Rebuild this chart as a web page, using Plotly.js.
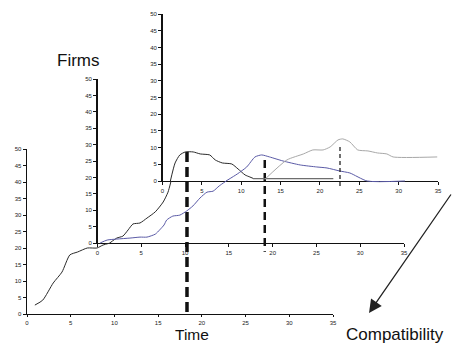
<!DOCTYPE html>
<html>
<head>
<meta charset="utf-8">
<script src="https://cdn.plot.ly/plotly-3.0.1.min.js"></script>
<style>html,body{margin:0;padding:0;background:#fff;}#chart{width:452px;height:343px;}</style>
</head>
<body>
<div id="chart"></div>
<script>
// ---------- data (each panel in its own axis coordinates) ----------
var xTicks = [0, 5, 10, 15, 20, 25, 30, 35];
var yTicks = [0, 5, 10, 15, 20, 25, 30, 35, 40, 45, 50];

// back (front-left) panel
var backBlackX = [0.9, 1.8, 3.0, 4.0, 4.9, 5.8, 6.9, 8.0, 8.7, 9.5];
var backBlackY = [2.7, 4.2, 9.4, 12.7, 17.9, 18.8, 20.0, 20.0, 20.9, 21.5];

// middle panel
var midBlackX = [1.4, 2.2, 2.9, 3.5, 4.05, 4.85, 5.65, 6.6, 7.5, 8.05, 8.4];
var midBlackY = [0, 1.5, 2.1, 4.0, 5.8, 6.1, 7.6, 9.5, 12.5, 15.5, 18.9];
var midBlueX = [0.3, 1.1, 2.2, 3.7, 4.85, 5.65, 6.6, 7.1, 7.6, 7.9, 8.6, 9.4, 10.2, 10.9, 11.7, 12.5, 13.2, 13.9, 14.7];
var midBlueY = [0, 0.9, 1.2, 1.5, 1.8, 1.8, 2.7, 4.0, 5.5, 7.0, 8.2, 8.5, 9.8, 11.3, 13.7, 15.5, 15.8, 17.4, 18.9];

// top panel
var topBlackX = [1.0, 1.6, 2.2, 2.9, 3.9, 4.8, 6.0, 6.7, 7.6, 8.8, 9.6, 10.5, 11.1, 11.5];
var topBlackY = [0, 5.4, 7.8, 8.7, 8.7, 8.1, 7.8, 6.3, 5.4, 5.1, 3.6, 1.8, 1.2, 0.8];
var topFlatX = [11.5, 21.7];
var topFlatY = [0.7, 0.7];
var topBlueX = [8.07, 9.5, 10.7, 11.75, 12.6, 13.6, 15.3, 17.5, 19.6, 20.9, 22.5, 23.8, 26.0, 30.8];
var topBlueY = [0, 2.1, 4.2, 7.2, 7.8, 7.2, 6.0, 4.8, 4.2, 3.9, 3.0, 2.4, 0, 0];
var topGrayX = [13.0, 15.8, 17.9, 19.1, 20.4, 21.3, 22.3, 22.9, 23.8, 24.8, 26.1, 27.3, 28.5, 29.3, 34.9];
var topGrayY = [0.5, 6.3, 8.1, 9.3, 9.3, 10.2, 12.3, 12.6, 11.7, 9.3, 9.0, 8.4, 8.1, 7.2, 7.2];

// vertical dashed markers
var dash1X = [18.3, 18.3], dash1Y = [49.1, 0];      // back coords
var dash2X = [19.1, 19.1], dash2Y = [25.3, -2.7];   // middle coords
var dash3X = [22.55, 22.55], dash3Y = [10.2, -1.8]; // top coords

var labelFirms = 'Firms', labelTime = 'Time', labelComp = 'Compatibility';

// ---------- layout geometry (pixel boxes of the three panels) ----------
var W = 452, H = 343;
var panels = [
  {x0: 27,    x1: 333, y0: 314, y1: 149, xticklen: 2},   // back
  {x0: 97.5,  x1: 404, y0: 243, y1: 79,  xticklen: 3},   // middle
  {x0: 162.5, x1: 438, y0: 181, y1: 14,  xticklen: 3}    // top
];
var XMAX = 35, YMAX = 50;

var layout = {
  width: W, height: H, autosize: false,
  margin: {l: 0, r: 0, t: 0, b: 0, pad: 0},
  paper_bgcolor: '#ffffff', plot_bgcolor: 'rgba(0,0,0,0)',
  showlegend: false,
  font: {family: 'Liberation Sans, Arial, sans-serif', color: '#111'},
  annotations: [], shapes: []
};

panels.forEach(function (p, i) {
  var n = i + 1, h = i + 4;
  var sx = (p.x1 - p.x0) / XMAX, sy = (p.y0 - p.y1) / YMAX;
  var axCommon = {
    showgrid: false, zeroline: false, showline: true,
    linecolor: '#111', linewidth: 1.4, ticks: 'outside', ticklen: 3,
    tickwidth: 1, tickcolor: '#111', fixedrange: true,
    tickfont: {size: 6, color: '#222', family: 'Liberation Sans, Arial, sans-serif'}
  };
  layout['xaxis' + (n === 1 ? '' : n)] = Object.assign({}, axCommon, {
    domain: [p.x0 / W, p.x1 / W], range: [0, XMAX], anchor: 'y' + (n === 1 ? '' : n),
    tickmode: 'array', tickvals: xTicks, ticktext: xTicks.map(String), ticklen: p.xticklen
  });
  layout['yaxis' + (n === 1 ? '' : n)] = Object.assign({}, axCommon, {
    domain: [1 - p.y0 / H, 1 - p.y1 / H], range: [0, YMAX], anchor: 'x' + (n === 1 ? '' : n),
    tickmode: 'array', tickvals: yTicks, ticktext: yTicks.map(String)
  });
  // hidden full-size axes on the same scale, so lines are not clipped to the box
  layout['xaxis' + h] = {domain: [0, 1], range: [-p.x0 / sx, (W - p.x0) / sx], visible: false, fixedrange: true, anchor: 'y' + h};
  layout['yaxis' + h] = {domain: [0, 1], range: [-(H - p.y0) / sy, p.y0 / sy], visible: false, fixedrange: true, anchor: 'x' + h};
});

function line(x, y, ax, color, width, dash, shape) {
  return {
    type: 'scatter', mode: 'lines', x: x, y: y,
    xaxis: 'x' + ax, yaxis: 'y' + ax, hoverinfo: 'skip',
    line: {color: color, width: width, dash: dash || 'solid', shape: shape || 'spline', smoothing: 0.6}
  };
}

var BLACK = '#2a2a2a', BLUE = '#5a5aa6', GRAY = '#a8a8a8', FLAT = '#6e6e6e';
var data = [
  // invisible placeholder traces so visible axes exist
  {type: 'scatter', mode: 'none', x: [0], y: [0], xaxis: 'x', yaxis: 'y', hoverinfo: 'skip'},
  {type: 'scatter', mode: 'none', x: [0], y: [0], xaxis: 'x2', yaxis: 'y2', hoverinfo: 'skip'},
  {type: 'scatter', mode: 'none', x: [0], y: [0], xaxis: 'x3', yaxis: 'y3', hoverinfo: 'skip'},
  line(backBlackX, backBlackY, 4, BLACK, 1),
  line(midBlackX, midBlackY, 5, BLACK, 1),
  line(midBlueX, midBlueY, 5, BLUE, 1),
  line(topBlackX, topBlackY, 6, BLACK, 1),
  line(topFlatX, topFlatY, 6, FLAT, 1.4, 'solid', 'linear'),
  line(topBlueX, topBlueY, 6, BLUE, 1),
  line(topGrayX, topGrayY, 6, GRAY, 1),
  line(dash1X, dash1Y, 4, '#111', 3.5, '10px,5px', 'linear'),
  line(dash2X, dash2Y, 5, '#111', 2.5, '8px,5px', 'linear'),
  line(dash3X, dash3Y, 6, '#111', 1.2, '4px,3px', 'linear')
];

var bigFont = {family: 'Liberation Sans, Arial, sans-serif', size: 17, color: '#111'};
var timeFont = {family: 'Liberation Sans, Arial, sans-serif', size: 15.5, color: '#111'};
layout.annotations.push(
  {xref: 'paper', yref: 'paper', x: 77.5 / W, y: 1 - 60 / H, text: labelFirms, showarrow: false, font: bigFont, xanchor: 'center', yanchor: 'middle'},
  {xref: 'paper', yref: 'paper', x: 192 / W, y: 1 - 334.3 / H, text: labelTime, showarrow: false, font: timeFont, xanchor: 'center', yanchor: 'middle', borderpad: 0},
  {xref: 'paper', yref: 'paper', x: 395 / W, y: 1 - 334 / H, text: labelComp, showarrow: false, font: bigFont, xanchor: 'center', yanchor: 'middle'},
  {xref: 'paper', yref: 'paper', x: 369 / W, y: 1 - 313 / H, text: '', showarrow: true,
   ax: 84, ay: -120, arrowhead: 2, arrowsize: 2, arrowwidth: 1.3, arrowcolor: '#222', standoff: 0}
);

Plotly.newPlot('chart', data, layout, {staticPlot: true, displayModeBar: false});
</script>
</body>
</html>
